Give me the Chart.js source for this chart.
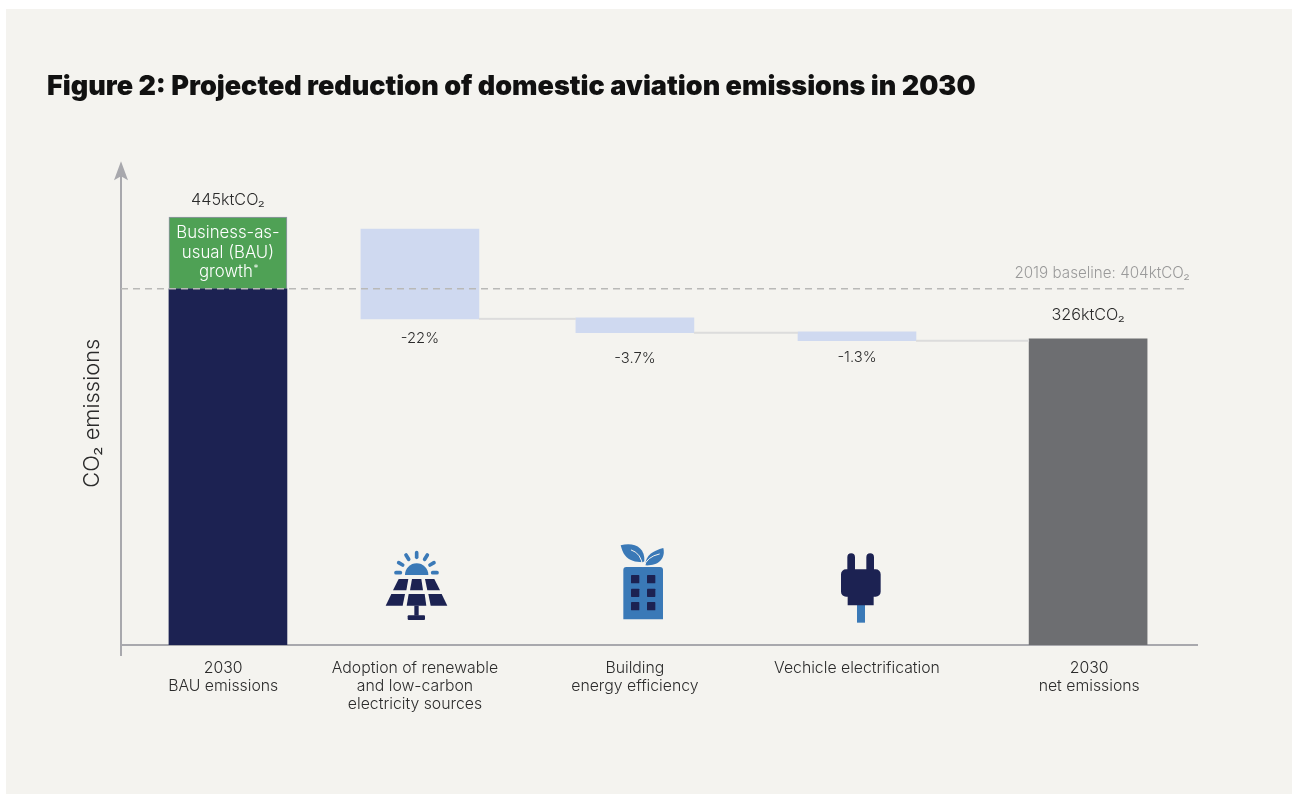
<!DOCTYPE html>
<html>
<head>
<meta charset="utf-8">
<script src="https://cdn.jsdelivr.net/npm/chart.js@4"></script>
<style>
html, body { margin: 0; padding: 0; background: #ffffff; }
#panel { position: absolute; left: 6px; top: 9px; width: 1286px; height: 785px; background: #f4f3ef; }
canvas { display: block; }
</style>
</head>
<body>
<div id="panel"><canvas id="waterfall" width="1286" height="785"></canvas></div>
<script>
// data (the drawing is not to scale with its own labels)
let categories = [
    ['2030', 'BAU emissions'],
    ['Adoption of renewable', 'and low-carbon', 'electricity sources'],
    ['Building', 'energy efficiency'],
    ['Vechicle electrification'],
    ['2030', 'net emissions']
];
let bauBase = [370.4];
let bauTop = [445];
let reductionLow = [339.2, 324.7, 316.4];
let reductionHigh = [432.6, 340.3, 325.7];
let netValue = [318.5];
let baseline = [370.4];
let reductionLabels = ['-22%', '-3.7%', '-1.3%'];
let totalLabels = ['445ktCO₂', '326ktCO₂'];
let growthLabel = ['Business-as-', 'usual (BAU)', 'growth'];
let baselineLabel = '2019 baseline: 404ktCO₂';
let yAxisTitle = 'CO₂ emissions';

// layout: slots are not evenly spaced in the original, tick text sits a little off some bars
const slotCentres = [0.497, 1.389, 2.388, 3.42, 4.494];
const tickCentres = [0.475, 1.366, 2.388, 3.42, 4.499];
const reductionLabelGap = [20, 26, 17];
const lineEnd = 4.962;
const FONT = 'Inter, "Noto Sans", sans-serif';
const AXIS = '#a8a8ad';

function text(ctx, str, x, y, size, color, align, weight) {
    ctx.font = (weight || 300) + ' ' + size + 'px ' + FONT;
    ctx.fillStyle = color;
    ctx.textAlign = align || 'center';
    ctx.textBaseline = 'middle';
    ctx.fillText(str, x, y);
}

function roundRect(ctx, x, y, w, h, r) {
    ctx.beginPath();
    ctx.roundRect(x, y, w, h, r);
    ctx.fill();
}

function poly(ctx, pts) {
    ctx.beginPath();
    pts.forEach(function (p, i) { i ? ctx.lineTo(p[0], p[1]) : ctx.moveTo(p[0], p[1]); });
    ctx.closePath();
    ctx.fill();
}

// icons are sketched in 3x units, same as measured in the crops
function solarIcon(ctx) {
    ctx.fillStyle = '#3a79b7';
    ctx.beginPath();
    ctx.arc(140, 135, 35, Math.PI, 0);
    ctx.closePath();
    ctx.fill();
    ctx.strokeStyle = '#3a79b7';
    ctx.lineWidth = 11;
    ctx.lineCap = 'round';
    [[78, 128, 91, 128], [86, 98, 98, 105], [108, 75, 116, 88], [140, 68, 140, 82], [172, 75, 164, 88], [192, 98, 180, 105], [201, 128, 188, 128]].forEach(function (r) {
        ctx.beginPath();
        ctx.moveTo(r[0], r[1]);
        ctx.lineTo(r[2], r[3]);
        ctx.stroke();
    });
    ctx.fillStyle = '#1c2252';
    poly(ctx, [[86, 147], [115, 147], [109, 181], [69, 181]]);
    poly(ctx, [[126, 147], [154, 147], [159, 181], [120, 181]]);
    poly(ctx, [[165, 147], [193, 147], [210, 181], [172, 181]]);
    poly(ctx, [[64, 192], [105, 192], [98, 227], [47, 227]]);
    poly(ctx, [[116, 192], [164, 192], [169, 227], [110, 227]]);
    poly(ctx, [[175, 192], [215, 192], [232, 227], [182, 227]]);
    ctx.fillRect(133, 227, 13, 30);
    roundRect(ctx, 113, 256, 52, 14, 3);
}

function buildingIcon(ctx) {
    ctx.fillStyle = '#3a79b7';
    ctx.beginPath();
    ctx.roundRect(760, 111, 119, 157, [9, 9, 0, 0]);
    ctx.fill();
    ctx.beginPath();
    ctx.moveTo(752, 46);
    ctx.bezierCurveTo(790, 36, 826, 50, 823, 94);
    ctx.lineTo(818, 97);
    ctx.bezierCurveTo(770, 96, 760, 75, 752, 46);
    ctx.closePath();
    ctx.fill();
    ctx.beginPath();
    ctx.moveTo(880, 54);
    ctx.bezierCurveTo(888, 90, 860, 108, 826, 106);
    ctx.bezierCurveTo(826, 75, 850, 62, 880, 54);
    ctx.closePath();
    ctx.fill();
    ctx.strokeStyle = '#f4f3ef';
    ctx.lineWidth = 3;
    ctx.beginPath();
    ctx.moveTo(784, 60);
    ctx.quadraticCurveTo(815, 70, 818, 110);
    ctx.moveTo(868, 72);
    ctx.quadraticCurveTo(830, 80, 822, 110);
    ctx.stroke();
    ctx.fillStyle = '#1c2252';
    [783, 831].forEach(function (x) {
        [135, 176, 216].forEach(function (y) {
            roundRect(ctx, x, y, 25, 25, 2);
        });
    });
}

function plugIcon(ctx) {
    ctx.fillStyle = '#3a79b7';
    ctx.fillRect(171, 224, 24, 54);
    ctx.fillStyle = '#1c2252';
    ctx.beginPath();
    ctx.roundRect(142, 70, 23, 60, [12, 12, 0, 0]);
    ctx.roundRect(199, 70, 23, 60, [12, 12, 0, 0]);
    ctx.roundRect(123, 118, 119, 82, 15);
    ctx.rect(143, 190, 78, 36);
    ctx.fill();
}

const decorations = {
    id: 'decorations',
    afterDatasetsDraw(chart) {
        let ctx = chart.ctx;
        let x = chart.scales.x;
        let y = chart.scales.y;
        let area = chart.chartArea;
        let barW = 118;

        ctx.save();

        // y axis arrow head and the stub under the x axis
        ctx.fillStyle = AXIS;
        poly(ctx, [[area.left, area.top - 4], [area.left + 7, area.top + 15], [area.left, area.top + 11], [area.left - 7, area.top + 15]]);
        ctx.fillRect(area.left - 1, area.bottom, 2, 11);

        // y axis title sits lower than the middle of the axis, scale title can't do that
        ctx.save();
        ctx.translate(area.left - 29, area.top + 248);
        ctx.rotate(-Math.PI / 2);
        text(ctx, yAxisTitle, 0, 0, 21.9, '#2b2b2b');
        ctx.restore();

        // connectors from each reduction step to the next bar
        ctx.fillStyle = '#dcdcdc';
        reductionLow.forEach(function (v, i) {
            let from = x.getPixelForValue(slotCentres[i + 1]) + barW / 2;
            let to = x.getPixelForValue(slotCentres[i + 2]) - barW / 2;
            ctx.fillRect(from, y.getPixelForValue(v) - 1, to - from, 2);
        });

        // labels
        let bauX = x.getPixelForValue(slotCentres[0]);
        text(ctx, totalLabels[0], bauX, y.getPixelForValue(bauTop[0]) - 17, 16.2, '#2b2b2b');
        text(ctx, totalLabels[1], x.getPixelForValue(slotCentres[4]), y.getPixelForValue(netValue[0]) - 24, 16.2, '#2b2b2b');
        growthLabel.forEach(function (s, i) {
            text(ctx, s, bauX - (i === 2 ? 2 : 0), y.getPixelForValue(bauTop[0]) + 16 + i * 19.5, 16.8, '#ffffff');
        });
        let growthY = y.getPixelForValue(bauTop[0]) + 16 + 2 * 19.5;
        text(ctx, '*', bauX - 2 + ctx.measureText(growthLabel[2]).width / 2 + 3, growthY - 3, 10, '#ffffff');
        reductionLabels.forEach(function (s, i) {
            text(ctx, s, x.getPixelForValue(slotCentres[i + 1]), y.getPixelForValue(reductionLow[i]) + reductionLabelGap[i], 14.8, '#2b2b2b');
        });
        text(ctx, baselineLabel, x.getPixelForValue(lineEnd) + 1, y.getPixelForValue(baseline[0]) - 15, 15.2, '#9a9a9a', 'right');

        // icons
        ctx.save();
        ctx.translate(364, 521);
        ctx.scale(1 / 3, 1 / 3);
        solarIcon(ctx);
        buildingIcon(ctx);
        ctx.restore();
        ctx.save();
        ctx.translate(794, 521);
        ctx.scale(1 / 3, 1 / 3);
        plugIcon(ctx);
        ctx.restore();

        ctx.restore();
    }
};

new Chart(document.querySelector('#waterfall').getContext('2d'), {
    type: 'bar',
    data: {
        datasets: [{
            label: 'BAU emissions',
            data: [{ x: slotCentres[0], y: [0, bauBase[0]] }],
            backgroundColor: '#1c2252',
            order: 2
        }, {
            label: 'BAU growth',
            data: [{ x: slotCentres[0], y: [bauBase[0], bauTop[0]] }],
            backgroundColor: '#4fa155',
            borderColor: 'rgba(28,34,82,0.45)',
            borderWidth: { top: 1, left: 1, right: 1, bottom: 0 },
            order: 2
        }, {
            label: 'Reductions',
            data: reductionLow.map(function (v, i) {
                return { x: slotCentres[i + 1], y: [v, reductionHigh[i]] };
            }),
            backgroundColor: '#cfd9f0',
            order: 2
        }, {
            label: 'Net emissions',
            data: [{ x: slotCentres[4], y: [0, netValue[0]] }],
            backgroundColor: '#6d6e71',
            order: 2
        }, {
            type: 'line',
            label: '2019 baseline',
            data: [{ x: 0, y: baseline[0] }, { x: lineEnd, y: baseline[0] }],
            borderColor: '#b9b9b7',
            borderWidth: 1.5,
            borderDash: [7, 5],
            pointRadius: 0,
            order: 1
        }]
    },
    options: {
        responsive: false,
        animation: false,
        layout: { padding: { left: 41, right: 95, top: 0, bottom: 67 } },
        datasets: { bar: { barThickness: 118, grouped: false } },
        plugins: {
            legend: { display: false },
            tooltip: { enabled: false },
            title: {
                display: true,
                text: 'Figure 2: Projected reduction of domestic aviation emissions in 2030',
                align: 'start',
                color: '#111111',
                font: { family: FONT, size: 27, weight: '900' },
                padding: { top: 62, bottom: 61.8 }
            }
        },
        scales: {
            x: {
                type: 'linear',
                min: 0,
                max: 5,
                offset: false,
                grid: { display: false, drawTicks: false },
                border: { color: AXIS, width: 2 },
                afterBuildTicks: function (scale) {
                    scale.ticks = tickCentres.map(function (v) { return { value: v }; });
                },
                ticks: {
                    autoSkip: false,
                    maxRotation: 0,
                    padding: 14,
                    color: '#2b2b2b',
                    font: { family: FONT, size: 15.8, weight: '300', lineHeight: 1.14 },
                    callback: function (value, index) { return categories[index]; }
                }
            },
            y: {
                min: 0,
                max: 499,
                grid: { display: false, drawTicks: false },
                border: { color: AXIS, width: 2 },
                ticks: { display: false },
                afterFit: function (scale) { scale.width = 74; }
            }
        }
    },
    plugins: [decorations]
});
</script>
</body>
</html>
